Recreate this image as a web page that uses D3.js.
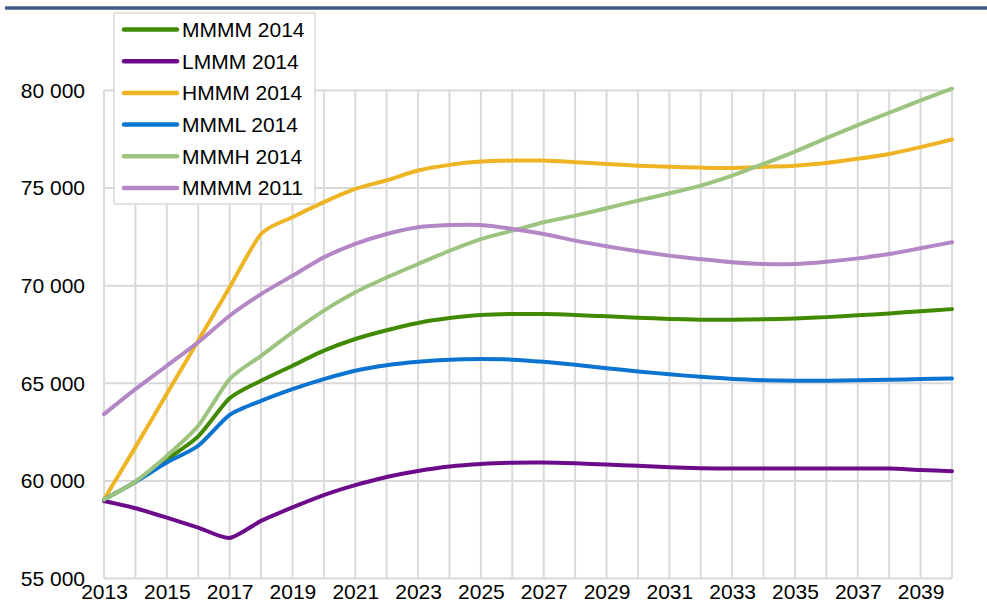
<!DOCTYPE html>
<html>
<head>
<meta charset="utf-8">
<script src="https://cdn.jsdelivr.net/npm/d3@7"></script>
<style>
  body { margin: 0; background: #fff; }
  svg text { font-family: "Liberation Sans", Arial, sans-serif; fill: #000; }
</style>
</head>
<body>
<svg id="chart" width="987" height="614"></svg>
<script>
// data
const years = [2013, 2014, 2015, 2016, 2017, 2018, 2019, 2020, 2021, 2022, 2023, 2024, 2025, 2026,
  2027, 2028, 2029, 2030, 2031, 2032, 2033, 2034, 2035, 2036, 2037, 2038, 2039, 2040];
const yearLabels = [2013, 2015, 2017, 2019, 2021, 2023, 2025, 2027, 2029, 2031, 2033, 2035, 2037, 2039];
const valueTicks = [55000, 60000, 65000, 70000, 75000, 80000];

const seriesNames = ['MMMM 2014', 'LMMM 2014', 'HMMM 2014', 'MMML 2014', 'MMMH 2014', 'MMMM 2011'];
const seriesColors = ['#408a00', '#6d0c8a', '#efb424', '#0b74d0', '#9cc47f', '#b386c5'];

const mmmm2014 = [59050, 59950, 61100, 62280, 64230, 65130, 65900, 66670, 67270, 67720, 68090, 68340, 68500, 68550,
  68550, 68500, 68430, 68360, 68300, 68260, 68250, 68280, 68320, 68390, 68480, 68580, 68690, 68800];
const lmmm2014 = [58970, 58600, 58120, 57610, 57080, 57950, 58640, 59270, 59780, 60200, 60510, 60740, 60870, 60930,
  60940, 60900, 60840, 60770, 60700, 60650, 60630, 60630, 60630, 60640, 60640, 60630, 60560, 60500];
const hmmm2014 = [59050, 61730, 64460, 67190, 69920, 72650, 73510, 74280, 74960, 75400, 75900, 76190, 76360, 76410,
  76410, 76330, 76240, 76150, 76090, 76050, 76030, 76090, 76150, 76290, 76500, 76750, 77100, 77490];
const mmml2014 = [59050, 59950, 60940, 61800, 63380, 64100, 64700, 65215, 65640, 65920, 66100, 66210, 66240, 66210,
  66100, 65950, 65770, 65610, 65460, 65330, 65220, 65160, 65130, 65130, 65150, 65180, 65220, 65250];
const mmmh2014 = [59050, 59980, 61280, 62820, 65215, 66410, 67610, 68720, 69660, 70420, 71110, 71790, 72390, 72820,
  73250, 73590, 73970, 74360, 74730, 75130, 75640, 76240, 76870, 77560, 78230, 78860, 79490, 80090];
const mmmm2011 = [63420, 64700, 65900, 67100, 68460, 69570, 70510, 71450, 72140, 72650, 72995, 73110, 73110, 72910,
  72650, 72310, 72020, 71760, 71540, 71360, 71200, 71110, 71110, 71230, 71400, 71620, 71920, 72230];

const seriesValues = [mmmm2014, lmmm2014, hmmm2014, mmml2014, mmmh2014, mmmm2011];

const svg = d3.select('#chart');
const plotLeft = 104, plotRight = 952, plotTop = 90.5, plotBottom = 578.5;

const x = d3.scaleLinear().domain([2013, 2040]).range([plotLeft, plotRight]);
const y = d3.scaleLinear().domain([55000, 80000]).range([plotBottom, plotTop]);

const spaceFormat = d3.formatLocale({ decimal: ',', thousands: ' ', grouping: [3], currency: ['', ''] }).format(',d');

// header rule (title itself is cut off in the reference)
svg.append('line')
  .attr('x1', 5).attr('x2', 987).attr('y1', 8).attr('y2', 8)
  .attr('stroke', '#435887').attr('stroke-width', 3.5);

// gridlines
const grid = svg.append('g');
grid.selectAll('line.v').data(years).join('line')
  .attr('class', 'v')
  .attr('x1', d => x(d)).attr('x2', d => x(d))
  .attr('y1', plotTop).attr('y2', plotBottom)
  .attr('stroke', '#d9d9d9').attr('stroke-width', 2);
grid.selectAll('line.h').data(valueTicks).join('line')
  .attr('class', 'h')
  .attr('x1', plotLeft).attr('x2', plotRight)
  .attr('y1', d => y(d)).attr('y2', d => y(d))
  .attr('stroke', '#d9d9d9').attr('stroke-width', 2);

// axes (labels only)
const yAxis = svg.append('g')
  .attr('transform', `translate(${plotLeft},0)`)
  .call(d3.axisLeft(y).tickValues(valueTicks).tickFormat(spaceFormat).tickSize(0).tickPadding(19));
const xAxis = svg.append('g')
  .attr('transform', `translate(0,${plotBottom})`)
  .call(d3.axisBottom(x).tickValues(yearLabels).tickFormat(d3.format('d')).tickSize(0).tickPadding(6));
[yAxis, xAxis].forEach(a => {
  a.select('.domain').remove();
  a.selectAll('text').attr('font-size', 21).attr('font-family', '"Liberation Sans", Arial, sans-serif').attr('fill', '#000');
});

// lines
const line = d3.line()
  .x((d, i) => x(years[i]))
  .y(d => y(d))
  .curve(d3.curveCardinal.tension(0.3));

seriesValues.forEach((vals, idx) => {
  svg.append('path')
    .attr('d', line(vals))
    .attr('fill', 'none')
    .attr('stroke', seriesColors[idx])
    .attr('stroke-width', 4)
    .attr('stroke-linejoin', 'round')
    .attr('stroke-linecap', 'round');
});

// legend
const legend = svg.append('g').attr('transform', 'translate(114,13)');
legend.append('rect')
  .attr('width', 201).attr('height', 191)
  .attr('fill', '#fff').attr('stroke', '#d9d9d9').attr('stroke-width', 1.5);
seriesNames.forEach((name, idx) => {
  const row = legend.append('g').attr('transform', `translate(0,${16.5 + idx * 31.7})`);
  row.append('line')
    .attr('x1', 10).attr('x2', 63)
    .attr('stroke', seriesColors[idx]).attr('stroke-width', 4.5).attr('stroke-linecap', 'round');
  row.append('text')
    .attr('x', 68).attr('dy', '0.35em')
    .attr('font-size', 21)
    .text(name);
});
</script>
</body>
</html>
